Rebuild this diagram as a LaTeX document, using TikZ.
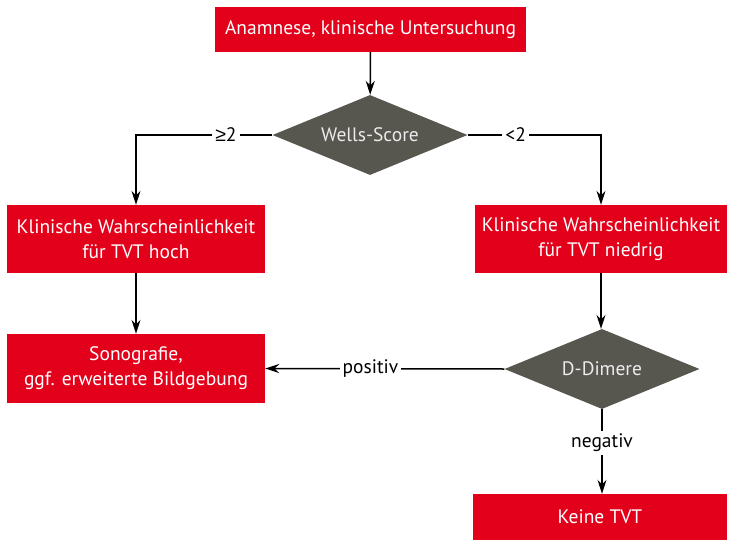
\documentclass[tikz,border=0pt]{standalone}
\usepackage{fontspec}
\setmainfont{PT Sans}
\newfontfamily\symfont{Liberation Sans}
\usetikzlibrary{shapes.geometric,arrows.meta}
\definecolor{dgred}{HTML}{E2001A}
\definecolor{dggray}{HTML}{58574F}
\begin{document}
\begin{tikzpicture}[x=1pt,y=-1pt,
  redbox/.style={fill=dgred,text=white,inner sep=0pt,align=center,font=\fontsize{19.5}{25}\selectfont},
  decbox/.style={diamond,fill=dggray,text=white!92!black,inner sep=0pt,minimum width=195pt,minimum height=80pt,aspect=2.44,font=\fontsize{19.5}{25}\selectfont},
  conn/.style={line width=1.5pt,-{Stealth[length=14pt,width=9pt]}},
  lbl/.style={fill=white,inner sep=3pt,font=\fontsize{19.5}{25}\selectfont}]
\useasboundingbox (0,0) rectangle (729,541);
\node[redbox,minimum width=311pt,minimum height=45pt] (top) at (370.5,29.5) {Anamnese, klinische Untersuchung};
\node[decbox] (wells) at (370,135) {Wells-Score};
\node[redbox,minimum width=258pt,minimum height=68pt] (hoch) at (136,239) {Klinische Wahrscheinlichkeit\\für TVT hoch};
\node[redbox,minimum width=252pt,minimum height=68pt] (niedrig) at (601,239) {Klinische Wahrscheinlichkeit\\für TVT niedrig};
\node[redbox,minimum width=258pt,minimum height=69pt] (sono) at (136,368.5) {Sonografie,\\ggf. erweiterte Bildgebung};
\node[decbox] (ddim) at (602,369) {D-Dimere};
\node[redbox,minimum width=254pt,minimum height=46pt] (keine) at (600,517) {Keine TVT};
\draw[conn] (top) -- (wells);
\draw[conn] (wells.west) -| node[lbl,pos=0.17] {{\symfont ≥}2} (hoch.north);
\draw[conn] (wells.east) -| node[lbl,pos=0.18] {<2} (niedrig.north);
\draw[conn] (hoch) -- (sono);
\draw[conn] (niedrig.south) -- (niedrig.south |- ddim.north);
\draw[conn] (ddim.west) -- node[lbl,pos=0.56] {positiv} (sono.east);
\draw[conn] (ddim.south) -- node[lbl,pos=0.4] {negativ} (ddim.south |- keine.north);
\end{tikzpicture}
\end{document}
